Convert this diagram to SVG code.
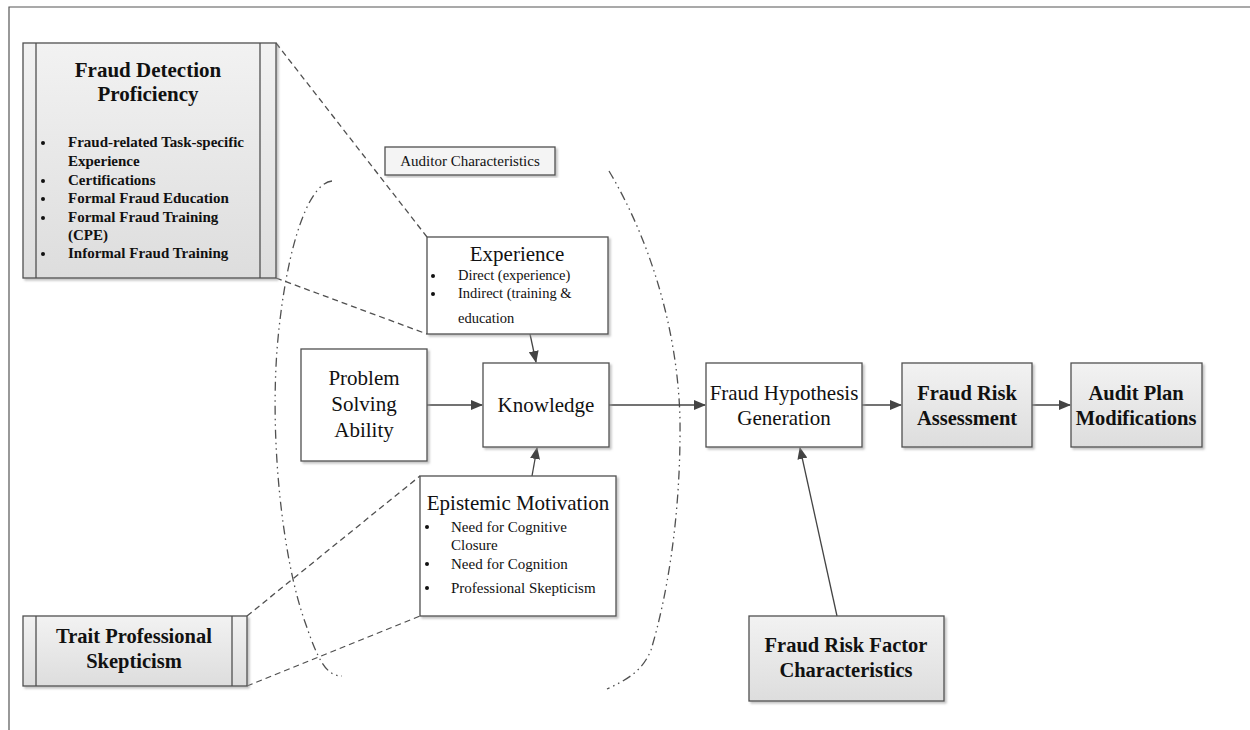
<svg xmlns="http://www.w3.org/2000/svg" width="1250" height="730" viewBox="0 0 1250 730">
<style>
.box{fill:#fff;stroke:#505050;stroke-width:1.3}
.gbox{fill:url(#g);stroke:#505050;stroke-width:1.3}
.sh{filter:url(#sh)}
.t{font-family:"Liberation Serif","Times New Roman",serif;fill:#111}
.r21{font-size:21px}
.b20{font-size:20.5px;font-weight:bold}
.s14{font-size:14.5px}
.s15{font-size:15px}
.bb{font-size:15px;font-weight:bold}
.c{text-anchor:middle}
.dash{fill:none;stroke:#505050;stroke-width:1.3;stroke-dasharray:6,4}
.arc{fill:none;stroke:#505050;stroke-width:1.3;stroke-dasharray:9,4,1.5,4,1.5,4}
.arr{fill:none;stroke:#444;stroke-width:1.3;marker-end:url(#ah)}
.dot{fill:#111}
</style>
<defs>
<linearGradient id="g" x1="0" y1="0" x2="0" y2="1">
<stop offset="0" stop-color="#f2f2f2"/>
<stop offset="1" stop-color="#dddddd"/>
</linearGradient>
<filter id="sh" x="-10%" y="-10%" width="120%" height="120%">
<feDropShadow dx="2" dy="2" stdDeviation="1" flood-color="#999" flood-opacity="0.6"/>
</filter>
<marker id="ah" markerWidth="12" markerHeight="10" refX="11" refY="5" orient="auto" markerUnits="userSpaceOnUse">
<path d="M0,0 L12,5 L0,10 z" fill="#444"/>
</marker>
</defs>
<path d="M9,730 V7 H1250" fill="none" stroke="#555" stroke-width="1.2"/>

<g id="connectors">
<line class="dash" x1="276" y1="43" x2="427" y2="237"/>
<line class="dash" x1="276" y1="278" x2="427" y2="334"/>
<line class="dash" x1="247" y1="616" x2="420" y2="476"/>
<line class="dash" x1="247" y1="686" x2="420" y2="616"/>
<path class="arc" d="M332,181 C305,184 284,262 277,350 C270,445 283,560 305,622 C318,660 326,676 342,676"/>
<path class="arc" d="M609,171 C650,240 678,330 680,420 C681,520 666,600 651,650 C642,672 626,680 607,689"/>
<line class="arr" x1="427" y1="405" x2="482" y2="405"/>
<line class="arr" x1="530" y1="334" x2="536" y2="362"/>
<line class="arr" x1="532" y1="476" x2="537" y2="448"/>
<line class="arr" x1="609" y1="405" x2="705" y2="405"/>
<line class="arr" x1="862" y1="405" x2="901" y2="405"/>
<line class="arr" x1="1032" y1="405" x2="1070" y2="405"/>
<line class="arr" x1="837" y1="616" x2="800" y2="448"/>
</g>

<g id="fraud-detection-proficiency">
<rect class="gbox sh" x="23" y="43" width="253" height="235"/>
<line x1="36" y1="43" x2="36" y2="278" stroke="#505050" stroke-width="1.3"/>
<line x1="260" y1="43" x2="260" y2="278" stroke="#505050" stroke-width="1.3"/>
<text class="t b20 c" x="148" y="77" style="font-size:21px">Fraud Detection</text>
<text class="t b20 c" x="148" y="101" style="font-size:21px">Proficiency</text>
<circle class="dot" cx="43" cy="143" r="2"/>
<circle class="dot" cx="43" cy="181" r="2"/>
<circle class="dot" cx="43" cy="199" r="2"/>
<circle class="dot" cx="43" cy="218" r="2"/>
<circle class="dot" cx="43" cy="254" r="2"/>
<text class="t bb" x="68" y="147">Fraud-related Task-specific</text>
<text class="t bb" x="68" y="166">Experience</text>
<text class="t bb" x="68" y="185">Certifications</text>
<text class="t bb" x="68" y="203">Formal Fraud Education</text>
<text class="t bb" x="68" y="222">Formal Fraud Training</text>
<text class="t bb" x="68" y="240">(CPE)</text>
<text class="t bb" x="68" y="258">Informal Fraud Training</text>
</g>

<g id="auditor-characteristics">
<rect class="gbox sh" x="385" y="147" width="170" height="28" style="fill:#f4f4f4"/>
<text class="t s15 c" x="470" y="166">Auditor Characteristics</text>
</g>

<g id="experience">
<rect class="box sh" x="427" y="237" width="181" height="97"/>
<text class="t r21 c" x="517" y="261">Experience</text>
<circle class="dot" cx="433" cy="276" r="2"/>
<circle class="dot" cx="433" cy="294" r="2"/>
<text class="t s14" x="458" y="280">Direct (experience)</text>
<text class="t s14" x="458" y="298">Indirect (training &amp;</text>
<text class="t s14" x="458" y="323">education</text>
</g>

<g id="problem-solving">
<rect class="box sh" x="301" y="349" width="126" height="112"/>
<text class="t r21 c" x="364" y="385">Problem</text>
<text class="t r21 c" x="364" y="411">Solving</text>
<text class="t r21 c" x="364" y="437">Ability</text>
</g>

<g id="knowledge">
<rect class="box sh" x="483" y="363" width="126" height="84"/>
<text class="t r21 c" x="546" y="412">Knowledge</text>
</g>

<g id="epistemic-motivation">
<rect class="box sh" x="420" y="476" width="196" height="140"/>
<text class="t r21 c" x="518" y="510">Epistemic Motivation</text>
<circle class="dot" cx="427" cy="527" r="2"/>
<circle class="dot" cx="427" cy="564" r="2"/>
<circle class="dot" cx="427" cy="588" r="2"/>
<text class="t s15" x="451" y="532">Need for Cognitive</text>
<text class="t s15" x="451" y="550">Closure</text>
<text class="t s15" x="451" y="569">Need for Cognition</text>
<text class="t s15" x="451" y="593">Professional Skepticism</text>
</g>

<g id="fraud-hypothesis-generation">
<rect class="box sh" x="706" y="363" width="156" height="84"/>
<text class="t r21 c" x="784" y="400">Fraud Hypothesis</text>
<text class="t r21 c" x="784" y="425">Generation</text>
</g>

<g id="fraud-risk-assessment">
<rect class="gbox sh" x="902" y="363" width="130" height="84"/>
<text class="t b20 c" x="967" y="400">Fraud Risk</text>
<text class="t b20 c" x="967" y="425">Assessment</text>
</g>

<g id="audit-plan-modifications">
<rect class="gbox sh" x="1071" y="363" width="131" height="84"/>
<text class="t b20 c" x="1136" y="400">Audit Plan</text>
<text class="t b20 c" x="1136" y="425">Modifications</text>
</g>

<g id="fraud-risk-factor-characteristics">
<rect class="gbox sh" x="749" y="616" width="195" height="85"/>
<text class="t b20 c" x="846" y="652">Fraud Risk Factor</text>
<text class="t b20 c" x="846" y="677">Characteristics</text>
</g>

<g id="trait-professional-skepticism">
<rect class="gbox sh" x="23" y="616" width="224" height="70"/>
<line x1="36" y1="616" x2="36" y2="686" stroke="#505050" stroke-width="1.3"/>
<line x1="232" y1="616" x2="232" y2="686" stroke="#505050" stroke-width="1.3"/>
<text class="t b20 c" x="134" y="643">Trait Professional</text>
<text class="t b20 c" x="134" y="668">Skepticism</text>
</g>
</svg>
